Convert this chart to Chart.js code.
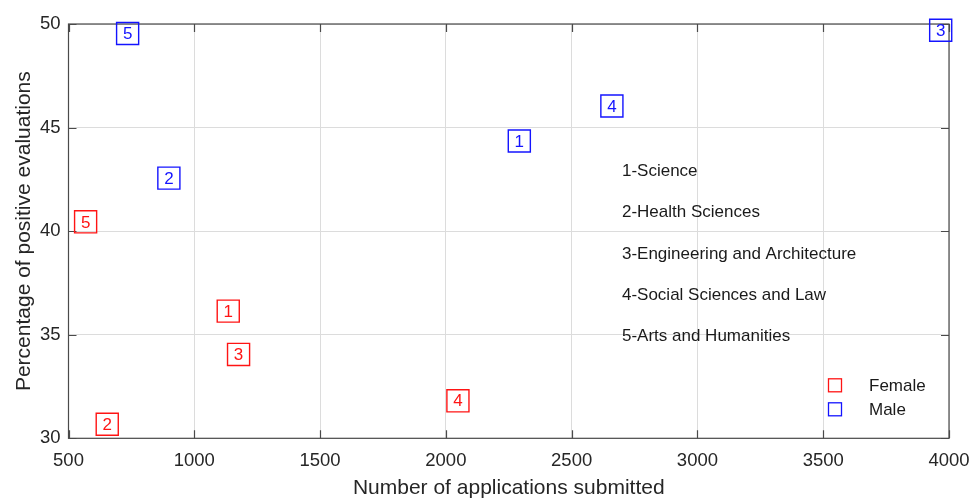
<!DOCTYPE html>
<html>
<head>
<meta charset="utf-8">
<script src="https://cdn.jsdelivr.net/npm/chart.js@4.4.1/dist/chart.umd.min.js"></script>
<style>
  html, body { margin: 0; padding: 0; background: #ffffff; }
  #wrap { width: 972px; height: 500px; position: relative; }
</style>
</head>
<body>
<div id="wrap"><canvas id="chart"></canvas></div>
<script>
// Field codes shown inside each marker
const fieldCodes = ['1', '2', '3', '4', '5'];
const fieldNames = ['1-Science', '2-Health Sciences', '3-Engineering and Architecture',
                    '4-Social Sciences and Law', '5-Arts and Humanities'];

// Applications submitted and share of positive evaluations, per field
const femaleApplications = [1135, 654, 1176, 2048, 568];
const femalePositive     = [36.14, 30.68, 34.05, 31.81, 40.45];
const maleApplications   = [2292, 899, 3967, 2660, 735];
const malePositive       = [44.35, 42.56, 49.70, 46.04, 49.54];

// Axis ticks
const xTicks = [500, 1000, 1500, 2000, 2500, 3000, 3500, 4000];
const yTicks = [30, 35, 40, 45, 50];

// Where the field key is written, in data units
const keyX = 2700;
const keyY = [42.9, 40.9, 38.9, 36.9, 34.9];

const RED = 'rgb(255,20,20)';
const BLUE = 'rgb(20,20,255)';
const INK = '#262626';
const FONT = '"Liberation Sans", Arial, Helvetica, sans-serif';

function toPoints(xs, ys) {
  return xs.map((x, i) => ({ x: x, y: ys[i], code: fieldCodes[i] }));
}

// Numbers inside the squares, field key text, legend, box with inward ticks
const decorations = {
  id: 'decorations',
  afterDatasetsDraw(chart) {
    const ctx = chart.ctx;
    const xs = chart.scales.x, ys = chart.scales.y;
    const area = chart.chartArea;

    // marker numbers
    ctx.save();
    ctx.font = '17px ' + FONT;
    ctx.textAlign = 'center';
    ctx.textBaseline = 'middle';
    chart.data.datasets.forEach((ds, di) => {
      const meta = chart.getDatasetMeta(di);
      ctx.fillStyle = ds.borderColor;
      meta.data.forEach((el, i) => {
        ctx.fillText(ds.data[i].code, el.x, el.y + 1);
      });
    });
    ctx.restore();

    // field key
    ctx.save();
    ctx.font = '17px ' + FONT;
    ctx.fillStyle = '#1a1a1a';
    ctx.textAlign = 'left';
    ctx.textBaseline = 'middle';
    fieldNames.forEach((t, i) => {
      ctx.fillText(t, xs.getPixelForValue(keyX), ys.getPixelForValue(keyY[i]));
    });
    ctx.restore();

    // legend
    ctx.save();
    ctx.font = '17px ' + FONT;
    ctx.textAlign = 'left';
    ctx.textBaseline = 'middle';
    const lx = area.right - 114, ly0 = area.bottom - 53, step = 24;
    chart.data.datasets.forEach((ds, di) => {
      const cy = ly0 + di * step;
      ctx.strokeStyle = ds.borderColor;
      ctx.lineWidth = 1.3;
      ctx.strokeRect(lx - 6.5, cy - 6.5, 13, 13);
      ctx.fillStyle = '#1a1a1a';
      ctx.fillText(ds.label, lx + 34, cy + 1);
    });
    ctx.restore();
  },
  beforeDatasetsDraw(chart) {
    const ctx = chart.ctx;
    const xs = chart.scales.x, ys = chart.scales.y;
    const a = chart.chartArea;
    const tl = 8;
    ctx.save();
    ctx.strokeStyle = '#4a4a4a';
    ctx.lineWidth = 1.2;
    ctx.strokeRect(a.left, a.top, a.right - a.left, a.bottom - a.top);
    ctx.beginPath();
    xTicks.forEach(v => {
      const px = Math.round(xs.getPixelForValue(v)) + 0.5;
      ctx.moveTo(px, a.bottom); ctx.lineTo(px, a.bottom - tl);
      ctx.moveTo(px, a.top); ctx.lineTo(px, a.top + tl);
    });
    yTicks.forEach(v => {
      const py = Math.round(ys.getPixelForValue(v)) + 0.5;
      ctx.moveTo(a.left, py); ctx.lineTo(a.left + tl, py);
      ctx.moveTo(a.right, py); ctx.lineTo(a.right - tl, py);
    });
    ctx.stroke();
    ctx.restore();
  }
};

new Chart(document.getElementById('chart'), {
  type: 'scatter',
  data: {
    datasets: [
      {
        label: 'Female',
        data: toPoints(femaleApplications, femalePositive),
        borderColor: RED,
        backgroundColor: 'rgba(0,0,0,0)',
        pointStyle: 'rect',
        pointRadius: 15.6,
        pointHoverRadius: 15.6,
        pointBorderWidth: 1.4,
        clip: false
      },
      {
        label: 'Male',
        data: toPoints(maleApplications, malePositive),
        borderColor: BLUE,
        backgroundColor: 'rgba(0,0,0,0)',
        pointStyle: 'rect',
        pointRadius: 15.6,
        pointHoverRadius: 15.6,
        pointBorderWidth: 1.4,
        clip: false
      }
    ]
  },
  options: {
    responsive: true,
    maintainAspectRatio: false,
    animation: false,
    events: [],
    layout: { padding: { left: 0, right: 23, top: 24, bottom: 0 } },
    plugins: {
      legend: { display: false },
      tooltip: { enabled: false }
    },
    scales: {
      x: {
        type: 'linear',
        min: 500, max: 4000,
        afterBuildTicks: s => { s.ticks = xTicks.map(v => ({ value: v })); },
        afterFit: s => { s.height = 61.7; s.paddingLeft = 0; s.paddingRight = 0; },
        grid: { color: '#dcdcdc', lineWidth: 1, drawTicks: false },
        border: { display: false },
        ticks: {
          color: INK, font: { family: FONT, size: 18.5 }, padding: 12, maxRotation: 0,
          callback: v => String(v)
        },
        title: {
          display: true, text: 'Number of applications submitted',
          color: INK, font: { family: FONT, size: 21 }, padding: { top: 0, bottom: -1 }
        }
      },
      y: {
        type: 'linear',
        min: 30, max: 50,
        afterBuildTicks: s => { s.ticks = yTicks.map(v => ({ value: v })); },
        afterFit: s => { s.width = 68.5; s.paddingTop = 0; s.paddingBottom = 0; },
        grid: { color: '#dcdcdc', lineWidth: 1, drawTicks: false },
        border: { display: false },
        ticks: {
          color: INK, font: { family: FONT, size: 18.5 }, padding: 8,
          callback: v => String(v)
        },
        title: {
          display: true, text: 'Percentage of positive evaluations',
          color: INK, font: { family: FONT, size: 21 }, padding: { top: 12, bottom: 0 }
        }
      }
    }
  },
  plugins: [decorations]
});
</script>
</body>
</html>
